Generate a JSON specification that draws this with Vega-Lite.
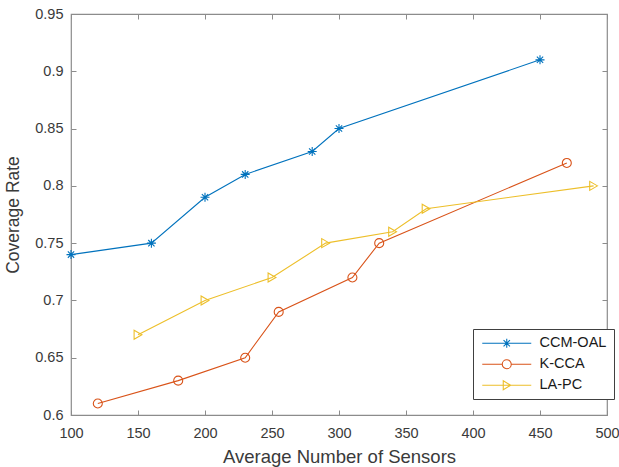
{
  "$schema": "https://vega.github.io/schema/vega-lite/v6.json",
  "autosize": "none",
  "width": 536,
  "height": 401,
  "padding": {"left": 71, "top": 14, "right": 12, "bottom": 52},
  "background": "white",
  "config": {
    "font": "Liberation Sans",
    "view": {"stroke": "#8c8c8c", "strokeWidth": 1.2},
    "axis": {
      "domain": false,
      "grid": false,
      "tickSize": -5,
      "tickColor": "#8c8c8c",
      "labelFlush": false,
      "labelOverlap": false,
      "labelFont": "Liberation Sans",
      "labelFontSize": 14.5,
      "labelColor": "#3a3a3a",
      "titleFont": "Liberation Sans",
      "titleFontWeight": "normal",
      "titleColor": "#3a3a3a"
    }
  },
  "data": {
    "values": [
      {"series": "CCM-OAL", "x": 100, "y": 0.74},
      {"series": "CCM-OAL", "x": 160, "y": 0.75},
      {"series": "CCM-OAL", "x": 200, "y": 0.79},
      {"series": "CCM-OAL", "x": 230, "y": 0.81},
      {"series": "CCM-OAL", "x": 280, "y": 0.83},
      {"series": "CCM-OAL", "x": 300, "y": 0.85},
      {"series": "CCM-OAL", "x": 450, "y": 0.91},
      {"series": "K-CCA", "x": 120, "y": 0.61},
      {"series": "K-CCA", "x": 180, "y": 0.63},
      {"series": "K-CCA", "x": 230, "y": 0.65},
      {"series": "K-CCA", "x": 255, "y": 0.69},
      {"series": "K-CCA", "x": 310, "y": 0.72},
      {"series": "K-CCA", "x": 330, "y": 0.75},
      {"series": "K-CCA", "x": 470, "y": 0.82},
      {"series": "LA-PC", "x": 150, "y": 0.67},
      {"series": "LA-PC", "x": 200, "y": 0.70},
      {"series": "LA-PC", "x": 250, "y": 0.72},
      {"series": "LA-PC", "x": 290, "y": 0.75},
      {"series": "LA-PC", "x": 340, "y": 0.76},
      {"series": "LA-PC", "x": 365, "y": 0.78},
      {"series": "LA-PC", "x": 490, "y": 0.80}
    ]
  },
  "resolve": {
    "scale": {"shape": "independent"},
    "axis": {"x": "independent", "y": "independent"},
    "legend": {"color": "independent", "shape": "independent"}
  },
  "layer": [
    {
      "mark": {"type": "line", "strokeWidth": 1.1},
      "encoding": {
        "x": {
          "field": "x", "type": "quantitative",
          "scale": {"domain": [100, 500], "nice": false, "zero": false},
          "axis": {"orient": "bottom", "values": [100, 150, 200, 250, 300, 350, 400, 450, 500], "title": "Average Number of Sensors", "titleFontSize": 18.5, "labelPadding": 16, "titlePadding": 8}
        },
        "y": {
          "field": "y", "type": "quantitative",
          "scale": {"domain": [0.6, 0.95], "nice": false, "zero": false},
          "axis": {"orient": "left", "values": [0.6, 0.65, 0.7, 0.75, 0.8, 0.85, 0.9, 0.95], "format": "~g", "title": "Coverage Rate", "titleFontSize": 17.5, "labelPadding": 13, "titlePadding": 12}
        },
        "color": {
          "field": "series", "type": "nominal",
          "scale": {"domain": ["CCM-OAL", "K-CCA", "LA-PC"], "range": ["#0072BD", "#D95319", "#EDBF2A"]},
          "legend": null
        },
        "detail": {"field": "series"}
      }
    },
    {
      "mark": {"type": "point", "filled": false, "size": 81, "strokeWidth": 1.1, "opacity": 1},
      "encoding": {
        "x": {
          "field": "x", "type": "quantitative",
          "axis": {"orient": "top", "values": [100, 150, 200, 250, 300, 350, 400, 450, 500], "labels": false, "title": null}
        },
        "y": {
          "field": "y", "type": "quantitative",
          "axis": {"orient": "right", "values": [0.6, 0.65, 0.7, 0.75, 0.8, 0.85, 0.9, 0.95], "labels": false, "title": null}
        },
        "color": {"field": "series", "type": "nominal", "legend": null},
        "shape": {
          "field": "series", "type": "nominal",
          "scale": {
            "domain": ["CCM-OAL", "K-CCA", "LA-PC"],
            "range": [
              "M-1,0L1,0M0,-1L0,1M-0.7,-0.7L0.7,0.7M-0.7,0.7L0.7,-0.7",
              "circle",
              "triangle-right"
            ]
          },
          "legend": null
        }
      }
    },
    {
      "mark": {"type": "point", "filled": false, "size": 100, "strokeWidth": 1.1, "opacity": 0},
      "encoding": {
        "x": {"field": "x", "type": "quantitative", "axis": null},
        "y": {"field": "y", "type": "quantitative", "axis": null},
        "color": {
          "field": "series", "type": "nominal",
          "legend": {
            "title": null, "orient": "none", "legendX": 402, "legendY": 315,
            "padding": 7, "fillColor": "white", "strokeColor": "#404040",
            "labelFont": "Liberation Sans", "labelFontSize": 14.5, "labelColor": "#1a1a1a",
            "labelOffset": 45, "rowPadding": 6, "symbolOpacity": 1, "symbolStrokeWidth": 1.1
          }
        },
        "shape": {
          "field": "series", "type": "nominal",
          "scale": {
            "domain": ["CCM-OAL", "K-CCA", "LA-PC"],
            "range": [
              "M-1,0L8.8,0M3,0L4.8,0M3.9,-0.9L3.9,0.9M3.26,-0.64L4.54,0.64M3.26,0.64L4.54,-0.64",
              "M-1,0L3,0M4.8,0L8.8,0M3,0A0.9,0.9 0 1,0 4.8,0A0.9,0.9 0 1,0 3,0",
              "M-1,0L8.8,0M3.2,-0.9L4.7,0L3.2,0.9Z"
            ]
          },
          "legend": {
            "title": null, "orient": "none", "legendX": 402, "legendY": 315,
            "padding": 7, "fillColor": "white", "strokeColor": "#404040",
            "labelFont": "Liberation Sans", "labelFontSize": 14.5, "labelColor": "#1a1a1a",
            "labelOffset": 45, "rowPadding": 6, "symbolOpacity": 1, "symbolStrokeWidth": 1.1
          }
        }
      }
    }
  ]
}
